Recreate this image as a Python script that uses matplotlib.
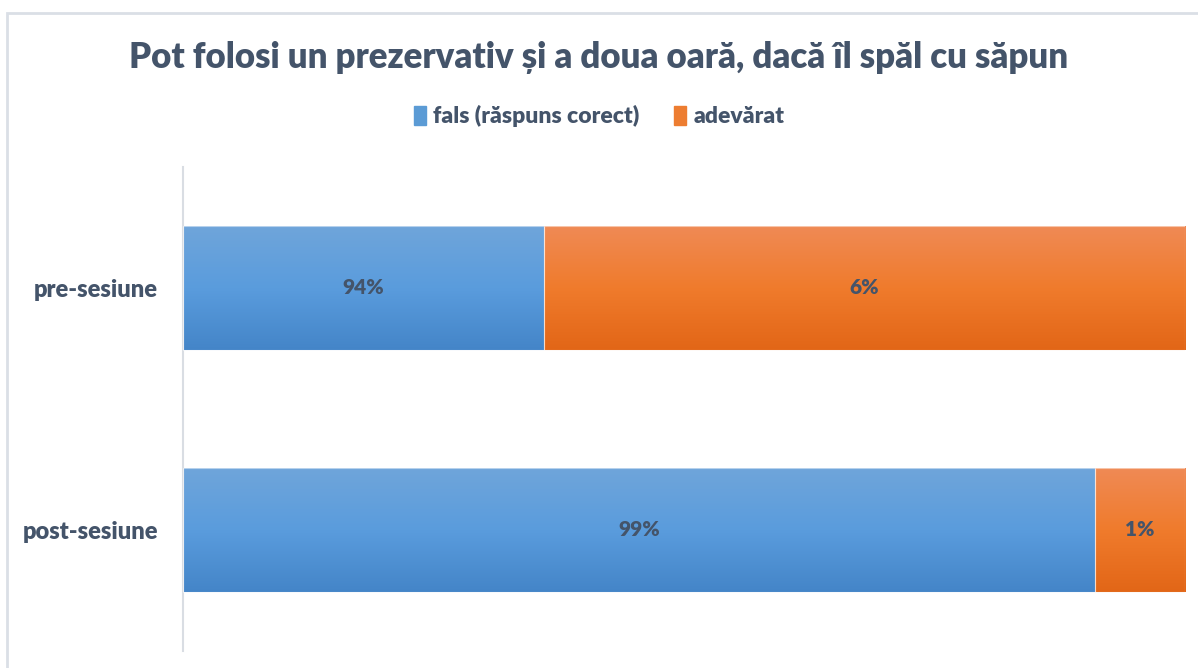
import numpy as np
import matplotlib.pyplot as plt
from matplotlib.colors import LinearSegmentedColormap
from matplotlib.patches import Rectangle

plt.rcParams['font.family'] = ['Lato', 'DejaVu Sans']

# data (axis in Excel starts at 90%)
categories = ["post-sesiune", "pre-sesiune"]
fals = [0.991, 0.936]
adevarat = [0.009, 0.064]
fals_labels = ["99%", "94%"]
adev_labels = ["1%", "6%"]
series_names = ["fals (răspuns corect)", "adevărat"]

text_col = "#44546A"
W = "heavy"
blue_grad = LinearSegmentedColormap.from_list("b", ["#4485C8", "#5A9CDD", "#6FA5DA"])
orange_grad = LinearSegmentedColormap.from_list("o", ["#E26617", "#F07B2C", "#EF8A55"])

fig = plt.figure(figsize=(11.98, 6.68), dpi=100)
ax = fig.add_axes([183 / 1198, 17 / 668, 1002 / 1198, 484 / 668])

y = np.arange(len(categories))
h = 0.512
b1 = ax.barh(y, fals, height=h, left=0, color="#5B9BD5", edgecolor="white", linewidth=0.6)
b2 = ax.barh(y, adevarat, height=h, left=fals, color="#ED7D31", edgecolor="white", linewidth=0.6)

ax.set_xlim(0.9, 1.0)
ax.set_ylim(-0.5, 1.5)

# vertical gradient fill clipped to each bar
grad = np.linspace(0, 1, 256).reshape(-1, 1)
for bars, cmap in ((b1, blue_grad), (b2, orange_grad)):
    for r in bars:
        x0 = max(r.get_x(), 0.9)
        x1 = r.get_x() + r.get_width()
        y0 = r.get_y()
        y1 = y0 + r.get_height()
        im = ax.imshow(grad, cmap=cmap, aspect="auto", extent=(x0, x1, y0, y1),
                       origin="lower", zorder=2.5)
        im.set_clip_path(r)
        ax.add_patch(Rectangle((x0, y0), x1 - x0, y1 - y0, fill=False,
                               edgecolor="#FFFFFF", linewidth=0.8, alpha=0.5, zorder=3))

for i in range(len(categories)):
    ax.text((0.9 + fals[i]) / 2, y[i], fals_labels[i], ha="center", va="center",
            fontsize=15, fontweight=W, color=text_col, zorder=4)
    ax.text(fals[i] + adevarat[i] / 2, y[i], adev_labels[i], ha="center",
            va="center", fontsize=15, fontweight=W, color=text_col, zorder=4)

ax.set_yticks(y)
ax.set_yticklabels(categories, fontsize=17, fontweight=W, color=text_col)
ax.tick_params(axis="y", length=0, pad=18)
ax.set_xticks([])
for s in ["top", "right", "bottom"]:
    ax.spines[s].set_visible(False)
ax.spines["left"].set_color("#D9DDE3")
ax.spines["left"].set_linewidth(1.5)

fig.text(0.5, 1 - 58 / 668, "Pot folosi un prezervativ și a doua oară, dacă îl spăl cu săpun",
         ha="center", va="center", fontsize=25, fontweight=W, color=text_col)

# legend
handles = [Rectangle((0, 0), 1, 1, color="#5B9BD5"), Rectangle((0, 0), 1, 1, color="#ED7D31")]
fig.legend(handles, series_names, loc="center", bbox_to_anchor=(0.5, 1 - 116 / 668),
           ncol=2, frameon=False, handlelength=0.55, handleheight=0.9, handletextpad=0.3,
           columnspacing=1.5,
           prop={"size": 16.5, "weight": W}, labelcolor=text_col)

# chart border
fig.add_artist(Rectangle((7 / 1198, -0.05), 1.2, 1 - 13 / 668 + 0.05,
                         transform=fig.transFigure, fill=False,
                         edgecolor="#DADFE6", linewidth=2))

fig.savefig("out.png", dpi=100)
